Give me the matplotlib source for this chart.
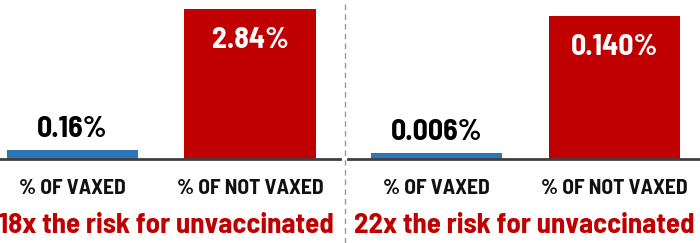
import matplotlib
matplotlib.use("Agg")
import matplotlib.pyplot as plt
from matplotlib.lines import Line2D

categories = ["% OF VAXED", "% OF NOT VAXED"]
left_values = [0.16, 2.84]
left_labels = ["0.16%", "2.84%"]
right_values = [0.006, 0.140]
right_labels = ["0.006%", "0.140%"]
left_caption = "18x the risk for unvaccinated"
right_caption = "22x the risk for unvaccinated"

BLUE = "#2E75B6"
RED = "#C00000"
FONT = ["Barlow Semi Condensed", "DejaVu Sans"]

W, H = 700, 243
fig = plt.figure(figsize=(7, 2.43), dpi=100)


def px_axes(x0, x1, ytop, ybase):
    return fig.add_axes([x0 / W, (H - ybase) / H, (x1 - x0) / W, (ybase - ytop) / H])


def panel(ax, values, labels, xlim, ymax, caption, cap_x):
    ax.set_xlim(*xlim)
    ax.set_ylim(0, ymax)
    ax.bar([0, 1], values, width=0.74, color=[BLUE, RED], zorder=2)
    for s in ["top", "left", "right"]:
        ax.spines[s].set_visible(False)
    ax.spines["bottom"].set_color("#404040")
    ax.spines["bottom"].set_linewidth(2.0)
    ax.set_xticks([])
    ax.set_yticks([])
    ax.patch.set_alpha(0)
    ax.annotate(labels[0], (0, values[0]), xytext=(0, 5), textcoords="offset points",
                ha="center", va="bottom", fontsize=21.5, fontweight="bold",
                color="black", family=FONT)
    ax.annotate(labels[1], (1, values[1]), xytext=(0, -13), textcoords="offset points",
                ha="center", va="top", fontsize=21.5, fontweight="bold",
                color="white", family=FONT)
    for i, c in enumerate(categories):
        ax.annotate(c, (i, 0), xytext=(0, -21.5), textcoords="offset points",
                    ha="center", va="center", fontsize=15.5, fontweight="bold",
                    color="#111111", family=FONT, annotation_clip=False)
    fig.text(cap_x / W, 1 - 225 / H, caption, ha="center", va="center",
             fontsize=20.8, fontweight="bold", color=RED, family=FONT)


axL = px_axes(0, 340, 0, 158.5)
axR = px_axes(348, 700, 0, 159)

panel(axL, left_values, left_labels, (-72.5 / 177.5, (340 - 72.5) / 177.5),
      2.84 * 158.5 / 149.5, left_caption, 166)
panel(axR, right_values, right_labels, ((348 - 436.5) / 178, (700 - 436.5) / 178),
      0.140 * 159 / 143, right_caption, 524)

fig.add_artist(Line2D([344.5 / W, 344.5 / W], [0, 1], transform=fig.transFigure,
                      color="#999999", linewidth=1.0, linestyle=(0, (4, 3))))

fig.savefig("out.png", dpi=100)
